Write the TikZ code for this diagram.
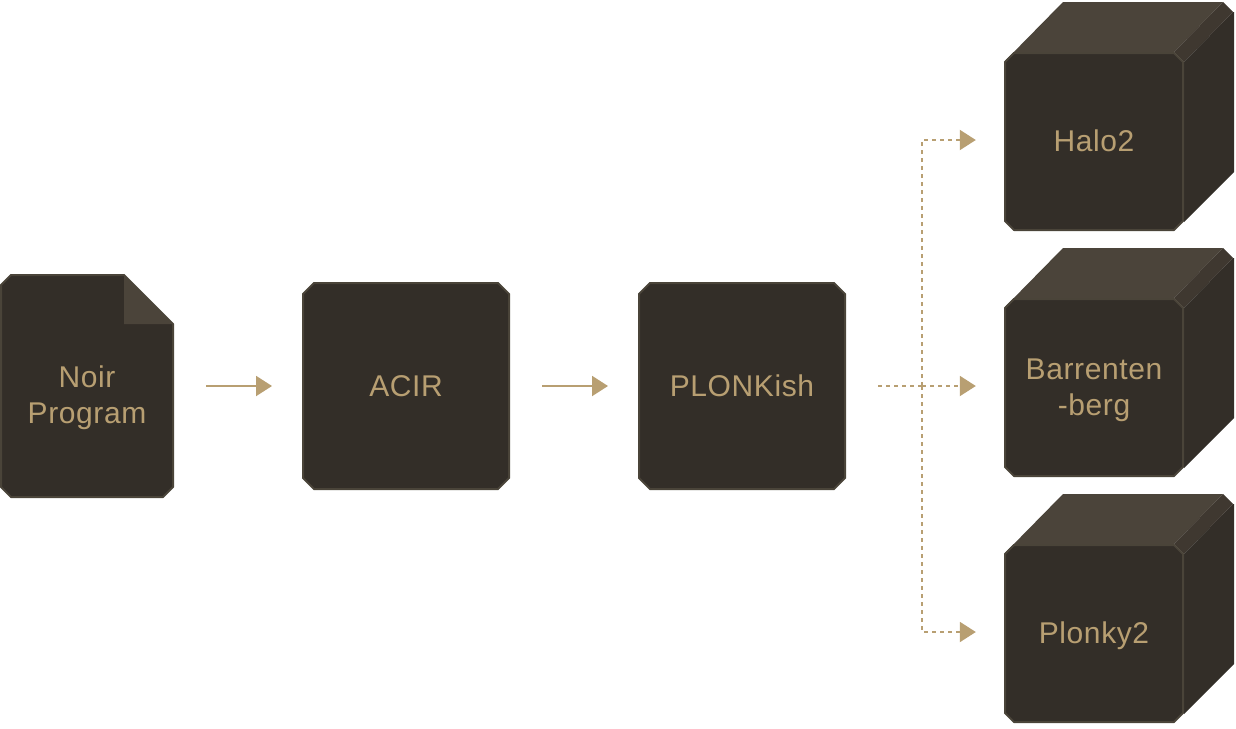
\documentclass[tikz,border=0pt]{standalone}
\usepackage{fontspec}
\setmainfont[LetterSpace=2]{Liberation Sans}
\usetikzlibrary{arrows.meta,shapes.misc,calc}
\definecolor{dark}{HTML}{332E28}
\definecolor{edge}{HTML}{4A4439}
\definecolor{topface}{HTML}{4B443A}
\definecolor{band}{HTML}{3F3830}
\definecolor{tan}{HTML}{B89F72}
\tikzset{
  x=1pt,y=-1pt,
  label text/.style={text=tan,font=\fontsize{30}{36}\selectfont,align=center},
  one line/.style={text height=21pt,text depth=0pt},
  box/.style={chamfered rectangle,chamfered rectangle xsep=5.5pt,chamfered rectangle ysep=5.5pt,draw=edge,fill=dark,line width=2pt,minimum width=206pt,minimum height=206pt,inner sep=0pt,label text,one line},
  bare/.style={rectangle,inner sep=0pt,label text},
  solidarrow/.style={draw=tan,line width=2pt,-{Triangle[length=16pt,width=20pt,fill=tan]},shorten <=32pt,shorten >=30pt},
  dotline/.style={draw=tan,line width=2pt,dash pattern=on 4pt off 4pt},
  dotarrow/.style={dotline,arrows={-Triangle[length=16pt,width=20pt,fill=tan]},shorten >=28pt},
  face/.style={fill=dark,draw=edge,line width=2pt,line join=round}
}
\newcommand{\cubebody}[1]{%
  \begin{scope}[shift={(0,#1)}]
    \fill[topface] (1005,61) -- (1063,2) -- (1223,2) -- (1174,52) -- cycle;
    \fill[band] (1174,52) -- (1223,2) -- (1233,12) -- (1184,62) -- cycle;
    \fill[dark] (1184,62) -- (1233,12) -- (1234,12) -- (1234,172) -- (1184,222) -- cycle;
    \draw[face] (1014,53) -- (1174,53) -- (1183,62) -- (1183,221) -- (1174,230) -- (1014,230) -- (1005,221) -- (1005,62) -- cycle;
  \end{scope}}
\begin{document}
\begin{tikzpicture}
\useasboundingbox (0,0) rectangle (1236,728);
% Noir program file
\draw[face] (11,275) -- (124,275) -- (173,324) -- (173,487) -- (163,497) -- (11,497) -- (1,487) -- (1,285) -- cycle;
\fill[topface] (124,275) -- (173,324) -- (124,324) -- cycle;
\node[bare,minimum width=174pt,minimum height=206pt] (noir) at (87,397.5) {Noir\\Program};
% boxes
\node[box] (acir) at (406,386) {ACIR};
\node[box] (plonkish) at (742,386) {PLONKish};
% cubes
\cubebody{0}
\cubebody{246}
\cubebody{492}
\node[bare,one line,text height=22pt,minimum width=180pt] (halo) at (1094,140) {Halo2};
\node[bare,minimum width=180pt] (barretenberg) at (1094,390) {Barrenten\\-berg};
\node[bare,one line,text height=22pt,minimum width=180pt] (plonky) at (1094,632) {Plonky2};
% connectors
\draw[solidarrow] (noir.east |- acir.west) -- (acir.west);
\draw[solidarrow] (acir.east) -- (plonkish.west);
\coordinate (branch) at (922,386);
\draw[dotline,shorten <=32pt] (plonkish.east) -- (branch);
\draw[dotarrow] (branch) -- (branch -| barretenberg.west);
\draw[dotarrow] (branch) |- (halo.west);
\draw[dotarrow] (branch) |- (plonky.west);
\end{tikzpicture}
\end{document}
